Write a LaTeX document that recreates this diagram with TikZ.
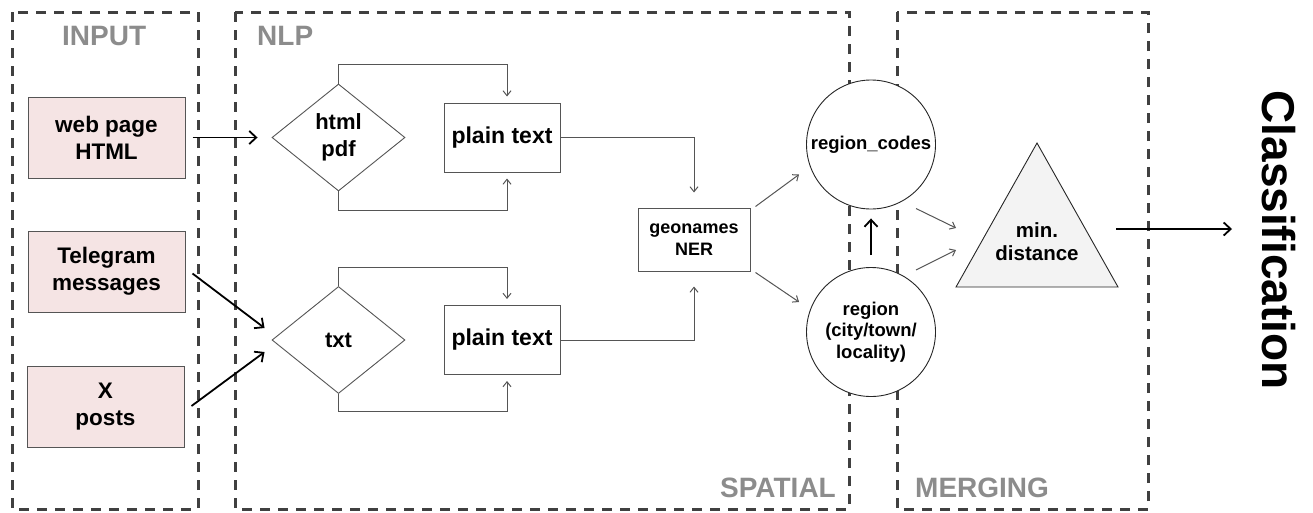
\documentclass[tikz,border=0pt]{standalone}
\usepackage{fontspec}
\setmainfont{Liberation Sans}
\usetikzlibrary{shapes.geometric,arrows.meta,calc}
\definecolor{dashc}{HTML}{404040}
\definecolor{pinkfill}{HTML}{F5E4E4}
\definecolor{labgray}{HTML}{8C8C8C}
\definecolor{edgegray}{HTML}{555555}
\definecolor{trifill}{HTML}{F3F3F3}
\tikzset{
  zone/.style={draw=dashc, line width=3pt, dash pattern=on 10pt off 8pt},
  zonelabel/.style={text=labgray, font=\bfseries\fontsize{28}{30}\selectfont, inner sep=0pt},
  inbox/.style={draw=edgegray, fill=pinkfill, line width=1pt, minimum width=157pt, minimum height=81pt, align=center, font=\bfseries\fontsize{22.5}{27}\selectfont},
  dia/.style={diamond, draw=edgegray, fill=white, line width=0.9pt, minimum width=133pt, minimum height=107pt, inner sep=0pt, align=center, font=\bfseries\fontsize{22}{27}\selectfont},
  ptbox/.style={draw=edgegray, fill=white, line width=1pt, minimum width=116pt, minimum height=69pt, font=\bfseries\fontsize{23}{27}\selectfont},
  geobox/.style={draw=edgegray, fill=white, line width=1pt, minimum width=112pt, minimum height=63pt, align=center, font=\bfseries\fontsize{18}{22}\selectfont},
  circ/.style={circle, draw=black!85, fill=white, line width=0.9pt, minimum size=129pt, inner sep=0pt, align=center, font=\bfseries\fontsize{18.5}{21.5}\selectfont},
  thinarr/.style={draw=edgegray, line width=1pt, -{Straight Barb[length=5pt,width=8pt]}},
  thickarr/.style={draw=black, line width=1.8pt, -{Straight Barb[length=7pt,width=13pt]}},
}
\begin{document}
\begin{tikzpicture}[x=1pt,y=-1pt]
\useasboundingbox (0,0) rectangle (1313,512);
% zones
\draw[zone] (12,12) rectangle (198,509);
\draw[zone] (235,12) rectangle (849,509);
\draw[zone] (897,12) rectangle (1148,509);
\node[zonelabel, anchor=west] (lin) at (62,36) {INPUT};
\node[zonelabel, anchor=west] (lnlp) at (257,36) {NLP};
\node[zonelabel, anchor=east] (lsp) at (836,488) {SPATIAL};
\node[zonelabel, anchor=west] (lmg) at (915,488) {MERGING};
% input boxes
\node[inbox] (web) at (106.5,137.5) {web page\\HTML};
\node[inbox] (tele) at (106.5,271.5) {Telegram\\messages};
\node[inbox] (xp) at (105.5,407) {X\\posts};
% diamonds
\node[dia] (html) at (338.5,137.5) {html\\pdf};
\node[dia] (txt) at (338.5,340) {txt};
% plain text
\node[ptbox] (pt1) at (502,137.5) {plain text};
\node[ptbox] (pt2) at (502,340) {plain text};
% geonames
\node[geobox] (geo) at (694,239.5) {geonames\\NER};
% circles
\node[circ] (rc) at (871,144.5) {region\_codes};
\node[circ] (reg) at (871,332) {region\\(city/town/\\locality)};
% triangle
\filldraw[fill=trifill, draw=black!85, line width=0.9pt] (1037,143) -- (1118,287) -- (956,287) -- cycle;
\node[font=\bfseries\fontsize{20.5}{23}\selectfont, align=center, inner sep=0pt] (tri) at (1037,242) {min.\\distance};
% classification
\node[rotate=-90, font=\bfseries\fontsize{46}{46}\selectfont, inner sep=0pt] (cls) at (1279,240) {Classification};
\coordinate (clsin) at (1232,229);
% input arrows
\draw[thickarr] ([xshift=7]web.east) -- ([xshift=-14]html.west);
\draw[thickarr] ([shift={(7,2)}]tele.east) -- ([shift={(-7,-12)}]txt.west);
\draw[thickarr] ([shift={(7,-1)}]xp.east) -- ([shift={(-7,12)}]txt.west);
% loops
\draw[thinarr] (html.north) -- ++(0,-19) -| ([shift={(5,-6)}]pt1.north);
\draw[thinarr] (html.south) -- ++(0,19) -| ([shift={(5,6)}]pt1.south);
\draw[thinarr] (txt.north) -- ++(0,-19) -| ([shift={(5,-6)}]pt2.north);
\draw[thinarr] (txt.south) -- ++(0,18) -| ([shift={(5,6)}]pt2.south);
% to geonames
\draw[thinarr] (pt1.east) -| ([shift={(0,-15)}]geo.north);
\draw[thinarr] (pt2.east) -| ([shift={(0,15)}]geo.south);
% geonames to circles
\draw[thinarr] ([shift={(5,-1)}]geo.north east) -- ([shift={(-7,30)}]rc.west);
\draw[thinarr] ([shift={(5,1)}]geo.south east) -- ([shift={(-7,-30)}]reg.west);
% region to region_codes
\draw[thickarr] ([shift={(0,-12)}]reg.north) -- ([shift={(0,9)}]rc.south);
% circles to triangle
\draw[thinarr] ([shift={(45,64)}]rc.center) -- ([shift={(-81,-14)}]tri.center);
\draw[thinarr] ([shift={(45,-62)}]reg.center) -- ([shift={(-81,8)}]tri.center);
% output
\draw[thickarr] ([shift={(79,-13)}]tri.center) -- (clsin);
\end{tikzpicture}
\end{document}
